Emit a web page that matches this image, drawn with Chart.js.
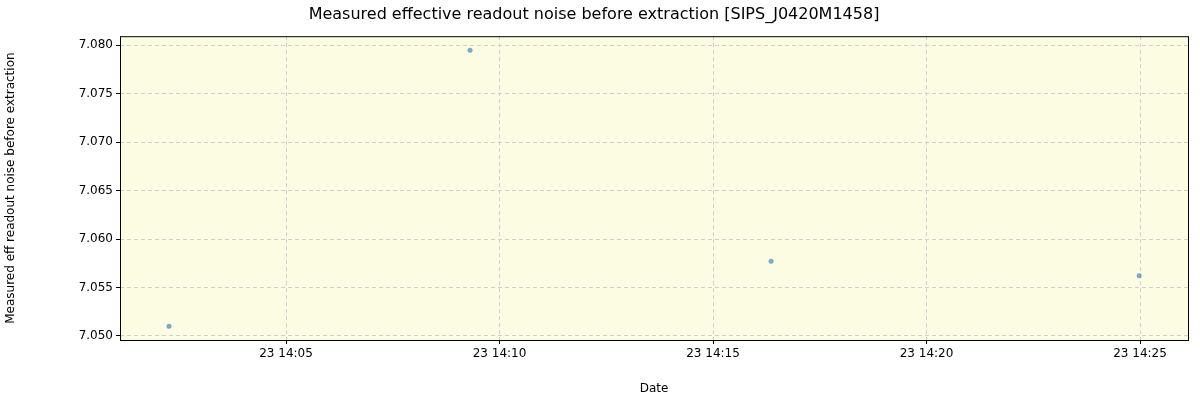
<!DOCTYPE html>
<html><head><meta charset="utf-8">
<script src="https://cdn.jsdelivr.net/npm/chart.js@4/dist/chart.umd.min.js"></script>
<style>html,body{margin:0;padding:0;background:#fff}#w{width:1200px;height:400px}</style>
</head><body><div id="w"><canvas id="c"></canvas></div>
<script>
const minutes = [2.26, 9.31, 16.36, 24.98]; // minutes after 14:00 on day 23
const noise = [7.0510, 7.0795, 7.0577, 7.0562];
const xTicks = [5, 10, 15, 20, 25];
const yTicks = [7.050, 7.055, 7.060, 7.065, 7.070, 7.075, 7.080];
const F = 'DejaVu Sans';
const bg = {id:'bg', beforeDraw(ch){const a=ch.chartArea,c=ch.ctx;c.save();c.fillStyle='#fcfce2';c.fillRect(a.left,a.top,a.right-a.left,a.bottom-a.top);c.restore();},
 afterDraw(ch){const a=ch.chartArea,c=ch.ctx;c.save();c.strokeStyle='#000';c.lineWidth=1;c.strokeRect(a.left+0.5,a.top+0.5,a.right-a.left,a.bottom-a.top);c.restore();}};
new Chart(document.getElementById('c'), {
 type:'scatter',
 data:{datasets:[{data:minutes.map((m,i)=>({x:m,y:noise[i]})),backgroundColor:'rgba(31,119,180,0.6)',borderColor:'rgba(31,119,180,0.6)',pointRadius:2.5,borderWidth:0}]},
 options:{responsive:true,maintainAspectRatio:false,animation:false,
  layout:{padding:{top:0,right:12,bottom:0,left:0}},
  plugins:{legend:{display:false},tooltip:{enabled:false},
   title:{display:true,text:'Measured effective readout noise before extraction [SIPS_J0420M1458]',color:'#000',font:{family:F,size:16,weight:'normal'},padding:{top:5,bottom:12}}},
  scales:{
   x:{type:'linear',min:1.112,max:26.124,
    afterBuildTicks(s){s.ticks=xTicks.map(v=>({value:v}));},
    afterFit(s){s.height=60;},
    ticks:{color:'#000',font:{family:F,size:12},maxRotation:0,callback:v=>'23 14:'+String(v).padStart(2,'0')},
    grid:{color:'#d0d0d0',tickColor:'#000',tickLength:4,drawTicks:true},border:{display:false,dash:[4,3]},
    title:{display:true,text:'Date',color:'#000',font:{family:F,size:12},padding:{top:2}}},
   y:{min:7.04958,max:7.08094,
    afterBuildTicks(s){s.ticks=yTicks.map(v=>({value:v}));},
    afterFit(s){s.width=120;},
    ticks:{color:'#000',font:{family:F,size:12},callback:v=>v.toFixed(3)},
    grid:{color:'#d0d0d0',tickColor:'#000',tickLength:4},border:{display:false,dash:[4,3]},
    title:{display:true,text:'Measured eff readout noise before extraction',color:'#000',font:{family:F,size:12},padding:{bottom:4}}}
  }},
 plugins:[bg]
});
</script></body></html>
